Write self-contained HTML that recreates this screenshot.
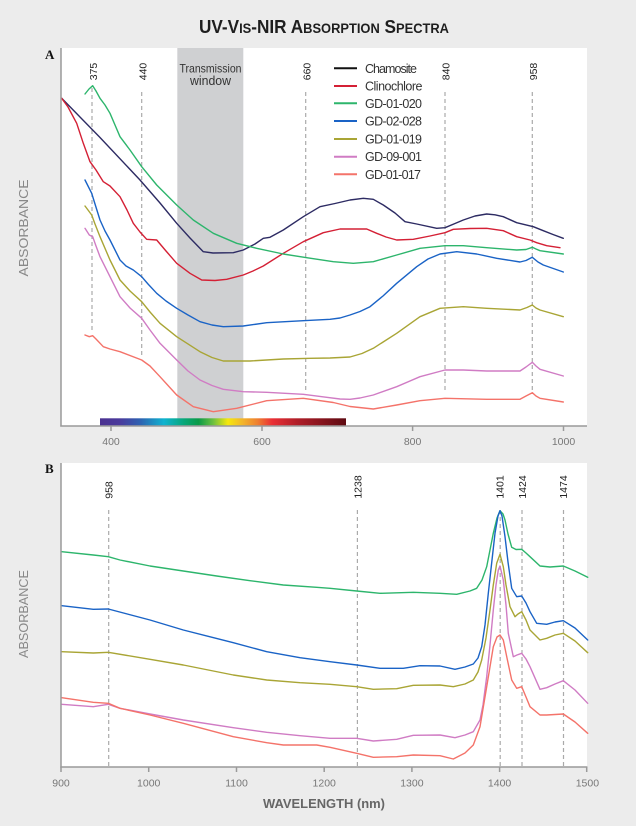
<!DOCTYPE html>
<html><head><meta charset="utf-8"><style>
html,body{margin:0;padding:0;background:#ececec;}
svg{display:block;}
text{font-family:"Liberation Sans",sans-serif;}
</style></head><body>
<svg width="636" height="826" viewBox="0 0 636 826" xmlns="http://www.w3.org/2000/svg">
<defs>
<linearGradient id="spec" x1="0" x2="1" y1="0" y2="0">
<stop offset="0" stop-color="#4b3190"/>
<stop offset="0.08" stop-color="#4a3a9c"/>
<stop offset="0.16" stop-color="#2f5fb0"/>
<stop offset="0.26" stop-color="#0fb3d0"/>
<stop offset="0.34" stop-color="#07a77a"/>
<stop offset="0.40" stop-color="#0a9a48"/>
<stop offset="0.46" stop-color="#6cc040"/>
<stop offset="0.52" stop-color="#f6e80c"/>
<stop offset="0.58" stop-color="#f2b42a"/>
<stop offset="0.64" stop-color="#ee8030"/>
<stop offset="0.70" stop-color="#ea2f35"/>
<stop offset="0.80" stop-color="#b01e28"/>
<stop offset="1" stop-color="#5e0a12"/>
</linearGradient>
</defs>
<rect x="0" y="0" width="636" height="826" fill="#ececec"/>

<!-- Title -->
<text x="324" y="33" text-anchor="middle" font-weight="bold" fill="#1e1e1e" textLength="250" lengthAdjust="spacingAndGlyphs"><tspan font-size="18">UV-V</tspan><tspan font-size="13.5">IS</tspan><tspan font-size="18">-NIR A</tspan><tspan font-size="13.5">BSORPTION</tspan><tspan font-size="18"> S</tspan><tspan font-size="13.5">PECTRA</tspan></text>

<!-- Panel A -->
<rect x="61" y="48" width="526" height="378" fill="#ffffff"/>
<rect x="177.3" y="48" width="66" height="378" fill="#cfd0d2"/>
<text x="210.5" y="72.5" text-anchor="middle" font-size="12" fill="#333" textLength="62" lengthAdjust="spacingAndGlyphs">Transmission</text>
<text x="210.5" y="85" text-anchor="middle" font-size="12.5" fill="#333" textLength="41" lengthAdjust="spacingAndGlyphs">window</text>

<text x="45" y="59" font-weight="bold" font-size="13" fill="#111" style="font-family:'Liberation Serif',serif">A</text>

<g stroke="#aaaaaa" stroke-width="1.2" stroke-dasharray="4,3" fill="none">
<line x1="92" y1="88" x2="92" y2="333"/>
<line x1="141.7" y1="92" x2="141.7" y2="357"/>
<line x1="305.7" y1="92" x2="305.7" y2="393"/>
<line x1="445" y1="92" x2="445" y2="393"/>
<line x1="532.3" y1="92" x2="532.3" y2="393"/>
</g>
<g font-size="10.5" fill="#222" text-anchor="middle">
<text transform="translate(97,71.5) rotate(-90)">375</text>
<text transform="translate(146.5,71.5) rotate(-90)">440</text>
<text transform="translate(310.5,71.5) rotate(-90)">660</text>
<text transform="translate(449.5,71.5) rotate(-90)">840</text>
<text transform="translate(537,71.5) rotate(-90)">958</text>
</g>

<!-- Legend -->
<g stroke-width="2">
<line x1="334" y1="68.3" x2="357" y2="68.3" stroke="#111"/>
<line x1="334" y1="86" x2="357" y2="86" stroke="#d42035"/>
<line x1="334" y1="103.3" x2="357" y2="103.3" stroke="#2db56c"/>
<line x1="334" y1="121" x2="357" y2="121" stroke="#1a63c6"/>
<line x1="334" y1="139" x2="357" y2="139" stroke="#a9a535"/>
<line x1="334" y1="156.7" x2="357" y2="156.7" stroke="#d07cc4"/>
<line x1="334" y1="174.3" x2="357" y2="174.3" stroke="#f4736a"/>
</g>
<g font-size="12.5" fill="#333" lengthAdjust="spacingAndGlyphs">
<text x="365" y="72.8" textLength="52">Chamosite</text>
<text x="365" y="90.5" textLength="57.5">Clinochlore</text>
<text x="365" y="107.8" textLength="57">GD-01-020</text>
<text x="365" y="125.5" textLength="57">GD-02-028</text>
<text x="365" y="143.5" textLength="57">GD-01-019</text>
<text x="365" y="161.2" textLength="57">GD-09-001</text>
<text x="365" y="178.8" textLength="56">GD-01-017</text>
</g>

<!-- Curves A -->
<g fill="none" stroke-width="1.4" stroke-linejoin="round" stroke-linecap="round">
<polyline stroke="#2d2b63" points="61.7,98.3 100,137.5 140,180 160,203 176.7,223.3 190,238 203.3,251.7 213,253 233.3,252.7 243.3,250 255,244 263.3,238.3 270,237.3 283.3,230 303.3,216.7 320,206.7 335,203.5 350,200 363.3,198.3 373.3,199.3 383.3,205 395,213 405,221.7 416.7,224 436.7,228.3 445,227.7 455,223.5 463.3,220 475,216 486.7,214 495,214.8 503.3,216.7 516.7,222.7 533.3,226.7 543.3,230.7 553,234.5 563.3,238.3"/>
<polyline stroke="#d42035" points="61.7,98.3 68,107 76.7,123.3 83.3,143.3 90,161.7 96,170 103.3,181.7 110,186 120,196.7 127,210 133.3,223.3 140,232 146.7,239.3 156.7,240 166,251 176.7,263.3 190,273.3 201.7,280 215,280.5 226.7,279.3 243.3,275 253,271 263.3,266 283.3,253.3 303.3,241.7 323.3,232.7 340,229 350,229 366.7,229 376.7,233.3 386,237 396.7,240 413.3,239.3 430,236 445,232.7 453.3,229.3 470,228.5 486.7,228.3 503.3,230.7 516.7,236.7 530,240 536.7,242.7 546.7,245.7 560,247.7"/>
<polyline stroke="#2db56c" points="85,94 89,89 92.7,85.7 96,91 100,98.3 105,105 110,113.3 115,125 120,136.7 130,150 141.7,166.7 156.7,185 176.7,205 193.3,220 213.3,233.3 236.7,243.3 256.7,248.3 283.3,254 306.7,257.7 333.3,261.7 353.3,263.3 373.3,261.7 396.7,255 420,248.3 445,245.7 463.3,245.7 486.7,247.7 516.7,250 526,249.5 532.3,247.3 536,249 540,250.7 563.3,254"/>
<polyline stroke="#1a63c6" points="85,180 91.7,193.3 95,204 100,220 105,231 110,240 120,260 126,266 133.3,270 141.7,276.7 148,284 156.7,293.3 166,301 176.7,308.3 188,315 200,321.7 212,325 223.3,326.7 243.3,326 266.7,322.7 303.3,320.7 330,319.3 340,318 350,315 360,311.5 370,306.7 383,296 396.7,283.3 416.7,266.7 428,259 440,254 456.7,251.7 476.7,254 496.7,258.3 520,262 526,260.5 532.3,257.3 538,262 543.3,265 563.3,272"/>
<polyline stroke="#a9a535" points="85,206 88,210 91.7,215 95,224 100,236.7 110,260 120,280 130,291 141.7,301.7 150,312 160,323.3 176.7,336.7 200,351.7 212,357.5 223.3,361 250,361 283.3,359 310,358.3 330,358 350,357 362,353.5 373.3,348.3 396.7,333.3 420,316.7 440,308.3 463.3,306.7 486.7,308.3 520,310 527,307.5 532.3,305 536,308 540,310 563.3,316.7"/>
<polyline stroke="#d07cc4" points="85,228.3 89.3,235 92.7,236.7 96,246 100,256.7 110,276.7 120,296.7 130,308 141.7,318.3 150,330 160,343.3 176.7,360 188,371 200,380 212,385.5 223.3,389.3 243.3,391.7 266.7,392.3 303.3,394.3 326.7,397.3 340,399 350,399.3 360,398 373.3,395 396.7,386.7 420,376.7 445,370 463.3,370 486.7,371 520,371 526,367 532.3,362.3 536,366 540,369.3 563.3,376"/>
<polyline stroke="#f4736a" points="85,335 89.3,336.7 92.7,335.7 96,339 103.3,346.7 110,349 120,351.7 141.7,360 150,366 160,376.7 176.7,395 193.3,406.7 213.3,411.7 236.7,408.3 266.7,400.7 303.3,398.3 333.3,402.5 350,406.5 373.3,409 396.7,405 420,400.7 445,398.3 486.7,399.3 520,399.3 526,396 532.3,392.7 536,396 540,398.3 563.3,402"/>
</g>

<!-- Colour bar -->
<rect x="100" y="418.3" width="246" height="7.7" fill="url(#spec)"/>

<!-- Axes A -->
<g stroke="#9a9a9a" stroke-width="1.5" fill="none">
<line x1="61" y1="48" x2="61" y2="426.5"/>
<line x1="60.3" y1="426" x2="587" y2="426"/>
<line x1="111" y1="426" x2="111" y2="431"/>
<line x1="262" y1="426" x2="262" y2="431"/>
<line x1="412.6" y1="426" x2="412.6" y2="431"/>
<line x1="563.5" y1="426" x2="563.5" y2="431"/>
</g>
<g font-size="10.5" fill="#777" text-anchor="middle">
<text x="111" y="445">400</text>
<text x="262" y="445">600</text>
<text x="412.6" y="445">800</text>
<text x="563.5" y="445">1000</text>
</g>
<text transform="translate(28,228) rotate(-90)" text-anchor="middle" font-size="13" fill="#888" textLength="97" lengthAdjust="spacingAndGlyphs">ABSORBANCE</text>

<!-- Panel B -->
<rect x="61" y="463" width="526" height="304" fill="#ffffff"/>
<text x="45" y="473" font-weight="bold" font-size="13" fill="#111" style="font-family:'Liberation Serif',serif">B</text>

<g stroke="#aaaaaa" stroke-width="1.2" stroke-dasharray="4,3" fill="none">
<line x1="108.7" y1="510" x2="108.7" y2="766"/>
<line x1="357.4" y1="510" x2="357.4" y2="766"/>
<line x1="500.2" y1="510" x2="500.2" y2="766"/>
<line x1="522" y1="510" x2="522" y2="766"/>
<line x1="563.5" y1="510" x2="563.5" y2="766"/>
</g>
<g font-size="10.5" fill="#222" text-anchor="middle">
<text transform="translate(112.5,490) rotate(-90)">958</text>
<text transform="translate(361.5,487) rotate(-90)">1238</text>
<text transform="translate(503.5,487) rotate(-90)">1401</text>
<text transform="translate(526,487) rotate(-90)">1424</text>
<text transform="translate(567,487) rotate(-90)">1474</text>
</g>

<g fill="none" stroke-width="1.4" stroke-linejoin="round" stroke-linecap="round">
<polyline stroke="#2db56c" points="61.7,551.7 93.3,555 108.3,556.7 120,560 150,566 183.3,571 216.7,576 250,580.7 283.3,585 316.7,587.3 330,588.3 356.7,591 380,593.3 413.3,592.3 440,593.3 456.7,594.3 470,591 476.7,588.3 482,580 486.7,566.7 490,550 493.3,533.3 497,518 500,510.7 503,514 505,520 508,534 511.7,547.3 516,549.5 521.7,549.3 526,553 530,556.7 540,566 550,567 563.3,566 575,571 587.7,577.3"/>
<polyline stroke="#1a63c6" points="61.7,605.7 93.3,609.3 108.3,609 150,620 183.3,630 233.3,642.7 266.7,651.7 300,657.7 330,661.7 356.7,665 380,668.3 403.3,668.3 420,665.7 440,666 455,669.3 465,667 473.3,664 478,658 481.7,646.7 485,625 488.3,593.3 492,560 495,533.3 498,516 500,510.7 502,516 505,536.7 508,562 511.7,588.3 516.7,596.7 521.7,596 526,603 530,611.7 536.7,623.3 546.7,624.3 555,622 563.3,620.7 575,628 587.7,640"/>
<polyline stroke="#a9a535" points="61.7,651.7 93.3,653 108.3,652.3 150,659.3 183.3,665 233.3,675 266.7,680 300,682.7 330,684.3 356.7,686.7 373.3,689.3 396.7,688.7 413.3,685.3 440,685 453.3,686.7 465,684 473.3,680 478,672 481.7,660 486,638 490,610 493.3,585 496.7,563.3 500,554.3 503.3,566.7 506,585 510,606.7 515,616.7 518,614 521.7,611.7 526,620 530,630 540,640 546.7,638.3 555,635 563.3,633.3 575,641 587.7,652.7"/>
<polyline stroke="#d07cc4" points="61.7,704.3 93.3,706.7 108.3,704.3 120,708.3 150,714 183.3,720 233.3,727.7 266.7,732.3 300,735.7 330,738.3 356.7,738.3 373.3,741 396.7,739.3 413.3,735.3 440,735 455,737.7 465,735 473.3,731.7 480,720 483,705 486.7,676.7 490,645 493.3,610 496,585 498.3,570 500,566 503.3,580 506,605 508.3,633.3 513.3,656.7 517,655 521.7,653.3 526,659 530,666.7 540,689.3 546.7,687.7 555,684 563.3,680.7 575,690 587.7,703.3"/>
<polyline stroke="#f4736a" points="61.7,697.7 93.3,702.3 108.3,703.3 120,708.3 150,715 183.3,723.3 233.3,736.7 266.7,742.7 283.3,745 316.7,745 330,747.3 356.7,753.3 373.3,757.3 396.7,756.7 413.3,755 440,755.7 453.3,759 465,753 473.3,745 480,726.7 486.7,686.7 493.3,646.7 497,637 500,635 503.3,640 507,658 511.7,680 516.7,688.3 521.7,686.7 526,697 530,706.7 540,715 546.7,715 563.3,714 575,722 587.7,733.3"/>
</g>

<g stroke="#9a9a9a" stroke-width="1.5" fill="none">
<line x1="61" y1="463" x2="61" y2="767.5"/>
<line x1="60.3" y1="767" x2="587.4" y2="767"/>
<line x1="61" y1="767" x2="61" y2="772"/>
<line x1="148.7" y1="767" x2="148.7" y2="772"/>
<line x1="236.5" y1="767" x2="236.5" y2="772"/>
<line x1="324.2" y1="767" x2="324.2" y2="772"/>
<line x1="411.9" y1="767" x2="411.9" y2="772"/>
<line x1="499.6" y1="767" x2="499.6" y2="772"/>
<line x1="586.7" y1="767" x2="586.7" y2="772"/>
</g>
<g font-size="10.5" fill="#777" text-anchor="middle">
<text x="61" y="786.5">900</text>
<text x="148.7" y="786.5">1000</text>
<text x="236.5" y="786.5">1100</text>
<text x="324.2" y="786.5">1200</text>
<text x="411.9" y="786.5">1300</text>
<text x="499.6" y="786.5">1400</text>
<text x="587.4" y="786.5">1500</text>
</g>
<text transform="translate(28,614) rotate(-90)" text-anchor="middle" font-size="13" fill="#888" textLength="88" lengthAdjust="spacingAndGlyphs">ABSORBANCE</text>
<text x="324" y="808" text-anchor="middle" font-size="13" font-weight="bold" fill="#666" textLength="122" lengthAdjust="spacingAndGlyphs">WAVELENGTH (nm)</text>
</svg>
</body></html>
